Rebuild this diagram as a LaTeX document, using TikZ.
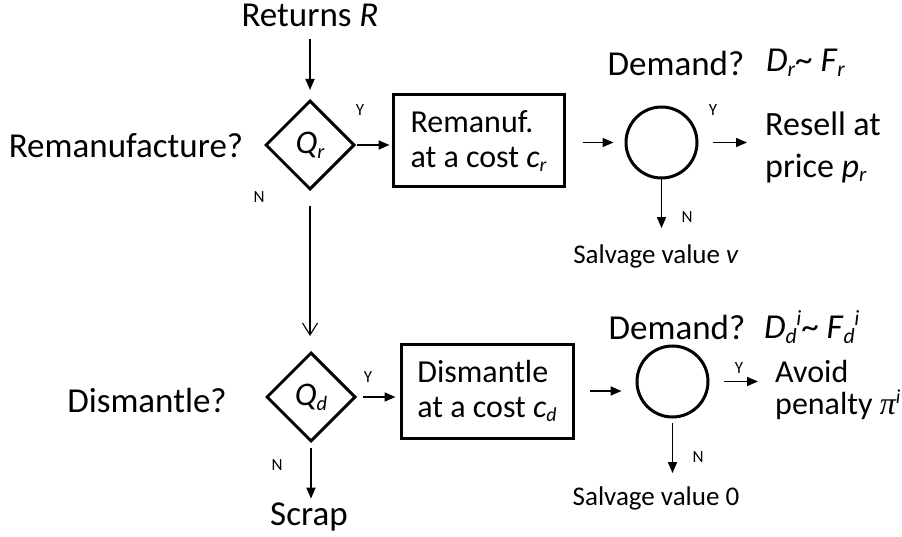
\documentclass[tikz,border=0pt]{standalone}
\usepackage{fontspec}
\setmainfont{Carlito}
\newfontfamily\pifont{Liberation Serif}
\usetikzlibrary{shapes.geometric,arrows.meta}
\newcommand{\sbx}[1]{\raisebox{-0.3ex}{\scalebox{0.62}{\itshape #1}}}
\newcommand{\spx}[1]{\raisebox{0.75ex}{\scalebox{0.62}{\itshape #1}}}
\begin{document}
\begin{tikzpicture}[x=1pt,y=-1pt,
  big/.style={font=\fontsize{35}{42}\selectfont, inner sep=0pt},
  boxtxt/.style={font=\fontsize{32}{35}\selectfont},
  small/.style={font=\fontsize{27}{30}\selectfont, inner sep=0pt},
  yn/.style={font=\fontsize{17}{19}\selectfont, inner sep=0pt},
  dec/.style={diamond, draw, line width=3pt, minimum width=89pt, minimum height=89pt, inner sep=0pt, aspect=1, font=\fontsize{33}{35}\selectfont},
  proc/.style={rectangle, draw, line width=3pt, inner sep=0pt, align=left, boxtxt},
  chance/.style={circle, draw, line width=3pt, minimum size=71pt, inner sep=0pt},
  arr/.style={line width=1.6pt, -{Triangle[length=11pt,width=9pt]}},
  openarr/.style={line width=1.1pt, -{Straight Barb[length=12pt,width=15pt,line width=1.1pt]}}
]
\useasboundingbox (0,0) rectangle (902,537);

% top branch
\node[big] (ret) at (310,15) {Returns \textit{R}};
\node[dec] (qr) at (310,145) {\textit{Q}\sbx{r}};
\node[big] (remq) at (126,146) {Remanufacture?};
\node[yn] (yr) at (360,110) {Y};
\node[yn] (nr) at (259,197) {N};
\node[proc, minimum width=171pt, minimum height=92pt] (boxr) at (478.5,141) {Remanuf.\\at a cost \textit{c}\sbx{r}};
\node[chance] (cr) at (661.5,142.5) {};
\node[big] (demr) at (676,63) {Demand?};
\node[big, anchor=west] (distr) at (766,63) {\textit{D}\sbx{r}\textasciitilde\ \textit{F}\sbx{r}};
\node[yn] (ycr) at (713,110) {Y};
\node[anchor=west, align=left, inner sep=0pt, font=\fontsize{34}{42}\selectfont] (resell) at (765,147) {Resell at\\price \textit{p}\sbx{r}};
\node[yn] (ncr) at (687,217) {N};
\node[small] (salv) at (656,256) {Salvage value \textit{v}};

\draw[arr, shorten <=12pt, shorten >=9pt] (ret.south) -- (qr.north);
\draw[arr, shorten <=1pt, shorten >=2pt] (qr.east) -- (qr.east -| boxr.west);
\draw[arr, shorten <=17pt, shorten >=11pt] (boxr.east |- cr) -- (cr.west);
\draw[arr, shorten <=14pt, shorten >=18pt] (cr.east) -- (resell.west |- cr);
\draw[arr, shorten >=16pt] (cr.south) -- (cr.south |- salv.north);

% bottom branch
\node[dec] (qd) at (311,397) {\textit{Q}\sbx{d}};
\draw[openarr, shorten <=15pt, shorten >=15pt] (qr.south) -- (qr.south |- qd.north);
\node[big] (dism) at (147,400) {Dismantle?};
\node[yn] (yd) at (368,377) {Y};
\node[yn] (nd) at (277,465) {N};
\node[proc, minimum width=172pt, minimum height=94pt] (boxd) at (487,391) {Dismantle\\at a cost \textit{c}\sbx{d}};
\node[chance] (cd) at (672.5,381.5) {};
\node[big] (demd) at (677,327) {Demand?};
\node[big, anchor=west] (distd) at (764,327) {\textit{D}\sbx{d}\kern-0.5pt\spx{i}\textasciitilde\ \textit{F}\sbx{d}\kern-0.5pt\spx{i}};
\node[yn] (ycd) at (739,368) {Y};
\node[anchor=west, align=left, inner sep=0pt, font=\fontsize{32}{32}\selectfont] (avoid) at (775,390) {Avoid\\penalty {\pifont\itshape π}\spx{i}};
\node[yn] (ncd) at (698,457) {N};
\node[small] (salv0) at (656,498) {Salvage value 0};
\node[big] (scrap) at (309,517) {Scrap};

\draw[arr, shorten <=6pt, shorten >=4pt] (qd.east) -- (qd.east -| boxd.west);
\draw[arr, shorten <=15pt, shorten >=14pt] (boxd.east) -- (boxd.east -| cd.west);
\draw[arr, shorten <=14pt, shorten >=17pt] (cd.east) -- (avoid.west |- cd);
\draw[arr, shorten <=4pt, shorten >=13pt] (cd.south) -- (cd.south |- salv0.north);
\draw[arr, shorten <=5pt, shorten >=4pt] (qd.south) -- (qd.south |- scrap.north);
\end{tikzpicture}
\end{document}
